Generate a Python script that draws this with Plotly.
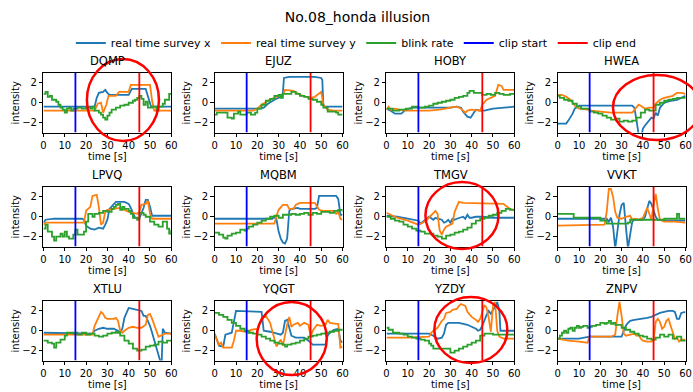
import plotly.graph_objects as go

# ---------------- data (time [s], value) ----------------
subjects = ["DQMP", "EJUZ", "HOBY", "HWEA", "LPVQ", "MQBM", "TMGV", "VVKT", "XTLU", "YQGT", "YZDY", "ZNPV"]
clip_start = 15
clip_end = 45

dqmp_sx = [(0,-0.4),(24,-0.4),(25,0.5),(26,1.0),(28,1.1),(29,1.3),(30,1.0),(31,0.8),(40,0.8),(41.5,1.4),(48,1.4),(49,0.6),(50.5,-0.4),(60,-0.4)]
dqmp_sy = [(0,-0.8),(24,-0.8),(25.5,-0.1),(27,0.0),(28,-1.0),(29.5,-0.2),(30.5,0.7),(34,0.7),(35.5,1.1),(40,1.1),(41,1.8),(50,1.8),(51,0.2),(52,-0.8),(60,-0.8)]
dqmp_br = [(0,0.9),(1,1.1),(2,0.6),(3,0.7),(4,0.3),(6,0.1),(7,-0.2),(8,-0.5),(9,-0.7),(10,-1.0),(11,-0.6),(12,-0.5),(13,-0.8),(14,-0.6),(16,-0.5),(18,-0.6),(20,-0.5),(22,-0.6),(23,-0.4),(24,-0.8),(26,-1.0),(27,-1.2),(28,-1.5),(29,-1.7),(30,-1.3),(31,-1.0),(32,-0.7),(34,-0.5),(36,-0.3),(38,-0.2),(40,0.0),(42,0.2),(43,0.3),(44,0.5),(45,0.7),(46,0.4),(47,-0.2),(48,0.1),(49,-0.5),(51,-0.4),(53,-0.8),(54,-0.4),(56,-0.1),(57,0.3),(59,0.9),(60,0.8)]

ejuz_sx = [(0,-0.6),(21,-0.6),(23,-0.5),(25,-0.1),(28,0.3),(31,0.6),(32,1.0),(32.5,2.5),(35,2.6),(47,2.6),(50,2.5),(50.5,2.3),(51,-0.3),(52,-0.4),(60,-0.4)]
ejuz_sy = [(0,-0.8),(18,-0.8),(20,-0.6),(22,-0.2),(25,0.2),(28,0.5),(30,0.7),(32,0.8),(33,1.3),(37,1.2),(40,0.8),(43,0.6),(45,0.5),(47,0.6),(49,0.9),(50,1.1),(51,-0.2),(53,-0.7),(56,-0.8),(60,-0.8)]
ejuz_br = [(0,-1.2),(1,-1.0),(5,-1.0),(6,-1.5),(8,-1.6),(9,-1.1),(11,-0.9),(12,-1.2),(14,-1.2),(15,-1.0),(17,-1.2),(19,-1.0),(20,-0.6),(22,-0.2),(24,0.2),(26,0.4),(28,0.7),(30,0.8),(31,0.5),(32,0.9),(34,0.9),(36,1.1),(38,0.9),(40,0.7),(42,0.6),(44,0.4),(46,0.3),(48,0.1),(50,-0.2),(51,-0.5),(53,-0.9),(55,-0.9),(57,-1.0),(58,-1.2),(60,-1.2)]

hoby_sx = [(0,-0.6),(2,-0.8),(4,-1.1),(7,-1.1),(9,-0.7),(12,-0.5),(30,-0.5),(33,-0.4),(35,-0.5),(36,-0.9),(38,-1.4),(39.5,-1.5),(41,-1.0),(42,-0.7),(44,-0.8),(46,-0.8),(50,-0.6),(55,-0.5),(60,-0.4)]
hoby_sy = [(0,-0.7),(1,-0.4),(2,-0.7),(4,-0.6),(6,-0.7),(9,-0.8),(20,-0.8),(25,-0.7),(30,-0.5),(33,-0.4),(35,-0.6),(37,-1.0),(38,-0.8),(40,-0.7),(44,-0.8),(45,-0.2),(47,0.3),(49,0.5),(51,0.7),(52.5,1.8),(54,1.7),(55,1.3),(60,1.3)]
hoby_br = [(0,-0.6),(3,-0.8),(6,-0.7),(9,-0.6),(12,-0.4),(15,-0.5),(18,-0.4),(20,-0.3),(22,-0.1),(24,0.0),(26,0.1),(28,0.2),(30,0.3),(32,0.5),(34,0.6),(36,0.7),(38,1.0),(39,1.2),(41,1.0),(43,1.0),(45,0.8),(47,0.9),(49,0.8),(51,1.0),(53,0.9),(55,0.8),(58,0.9),(60,0.9)]

hwea_sx = [(0,-2.1),(4,-2.1),(5,-1.8),(6,-1.5),(7,-1.1),(8,-0.6),(9,-0.4),(10,-0.3),(35,-0.3),(36,-0.5),(37,-1.8),(38,-3.2),(39.5,-3.2),(40,-2.6),(41,-2.3),(43,-1.7),(44,-1.5),(45,-1.6),(46,-1.0),(47,-1.3),(48,-0.5),(50,0.0),(53,0.2),(56,0.3),(58,0.5),(60,0.7)]
hwea_sy = [(0,0.8),(2,0.8),(4,0.6),(6,0.3),(8,-0.3),(10,-0.6),(14,-0.7),(16,-0.8),(20,-0.9),(25,-1.0),(35,-1.0),(37,-0.5),(38,-0.2),(39,-0.3),(41,-0.6),(43,-0.5),(45,-0.5),(46,-0.1),(48,0.3),(50,0.5),(52,0.6),(54,0.7),(56,1.0),(58,1.0),(60,0.9)]
hwea_br = [(0,0.7),(1,0.5),(3,0.3),(5,0.2),(7,-0.1),(9,-0.4),(11,-0.6),(13,-0.6),(15,-0.9),(17,-1.0),(19,-1.1),(21,-1.3),(23,-1.5),(25,-1.7),(27,-1.6),(29,-1.9),(31,-1.8),(33,-1.9),(35,-1.8),(37,-1.5),(39,-1.0),(41,-0.7),(43,-0.8),(45,-0.8),(46,-0.2),(48,0.0),(50,0.2),(52,0.3),(54,0.4),(56,0.5),(58,0.5),(60,0.6)]

lpvq_sx = [(0,-0.6),(1,-0.3),(5,-0.2),(18,-0.2),(19,-0.3),(20,-0.9),(22,-1.2),(24,-1.3),(26,-1.1),(28,-1.2),(29,-0.8),(30,-0.3),(31,0.8),(32,1.0),(34,1.5),(38,1.5),(40,1.3),(41,0.9),(42,0.3),(43,-0.1),(45,-0.2),(46,0.3),(47,0.9),(48,1.7),(49,1.7),(50,1.0),(51,0.1),(60,0.1)]
lpvq_sy = [(0,-0.8),(1,-0.6),(19,-0.6),(20,0.6),(22,1.0),(23,2.1),(25,2.2),(26,1.0),(27,-0.8),(28,-0.6),(29,0.5),(30,0.7),(33,0.8),(36,0.9),(38,0.7),(40,0.5),(42,0.4),(44,0.3),(45,0.5),(46,1.2),(48,1.3),(49,1.6),(50,0.3),(51,-0.2),(60,-0.2)]
lpvq_br = [(0,-1.2),(1,-0.8),(2,-1.5),(4,-2.0),(5,-2.4),(6,-2.0),(8,-1.7),(9,-2.0),(10,-1.5),(11,-2.0),(12,-2.2),(14,-1.8),(15,-1.3),(16,-1.8),(18,-1.8),(19,-1.5),(20,-0.5),(21,0.3),(23,0.0),(24,0.3),(26,0.4),(28,0.6),(30,0.5),(32,0.8),(33,1.0),(34,1.2),(35,1.3),(36,0.7),(37,1.0),(38,0.8),(40,0.6),(41,0.3),(42,-0.1),(44,-0.3),(45,0.4),(47,0.2),(48,0.0),(50,-0.5),(52,-0.8),(54,-1.0),(56,-0.5),(58,-1.2),(59,-1.7),(60,-1.3)]

mqbm_sx = [(0,-0.2),(27,-0.2),(28,0.0),(29,-0.3),(30,-1.5),(31,-2.2),(32,-2.6),(33,-2.7),(34,-2.2),(34.5,-0.3),(35,0.6),(36,0.8),(39,0.9),(40,0.8),(47,0.8),(48,0.9),(49,2.1),(57,2.1),(58,1.8),(59,0.2),(60,0.2)]
mqbm_sy = [(0,-0.7),(28,-0.7),(29,0.1),(30,0.7),(32,1.2),(34,1.2),(35,0.8),(37,0.8),(38,1.2),(40,1.4),(47,1.4),(48,1.0),(49,0.7),(51,0.6),(56,0.6),(57,0.3),(58,0.5),(59,-0.2),(60,-0.3)]
mqbm_br = [(0,-1.6),(2,-1.8),(4,-2.1),(5,-2.2),(6,-1.9),(8,-1.7),(10,-1.6),(12,-1.3),(14,-1.4),(15,-1.2),(16,-1.0),(18,-0.8),(20,-0.6),(22,-0.4),(24,-0.2),(26,0.0),(28,0.1),(30,-0.1),(32,0.2),(34,0.2),(36,0.3),(38,0.2),(40,0.3),(42,0.4),(44,0.2),(46,0.4),(48,0.3),(50,0.5),(52,0.5),(54,0.4),(56,0.6),(58,0.7),(60,0.5)]

tmgv_sx = [(0,0.1),(5,0.0),(10,-0.2),(13,-0.3),(15,-0.4),(16,-0.7),(17,-0.5),(18,-0.3),(20,0.0),(22,-0.3),(23,-0.1),(24,-0.2),(26,-0.3),(27,-0.6),(28,-0.5),(29,-0.3),(30,-0.6),(31,-0.2),(32,-0.3),(33,-0.2),(35,-0.1),(36,0.0),(37,-0.2),(38,0.2),(39,-0.1),(40,-0.1),(42,0.0),(45,0.0),(50,-0.1),(60,-0.1)]
tmgv_sy = [(0,0.4),(2,0.2),(5,-0.1),(10,-0.4),(13,-0.6),(15,-0.8),(16,-0.7),(17,-0.6),(19,-0.3),(21,0.2),(23,0.6),(24,0.3),(25,-1.4),(26,-1.8),(27,-1.3),(28,-1.0),(29,-0.9),(31,-0.7),(32,0.5),(33,1.0),(34,1.5),(36,1.4),(50,1.3),(55,1.3),(56,1.1),(58,0.8),(60,0.7)]
tmgv_br = [(0,0.0),(2,-0.2),(4,-0.4),(6,-0.5),(8,-0.8),(10,-1.0),(12,-1.2),(14,-1.4),(16,-1.5),(18,-1.7),(20,-1.7),(22,-1.9),(24,-2.0),(26,-2.2),(28,-1.9),(30,-1.8),(32,-1.6),(34,-1.5),(36,-1.3),(38,-1.1),(40,-0.7),(42,-0.4),(44,-0.2),(46,-0.1),(48,0.1),(50,0.2),(52,0.4),(54,0.6),(56,0.8),(58,0.7),(60,0.6)]

vvkt_sx = [(0,-0.2),(22,-0.2),(23,-0.2),(24,-0.5),(25,-0.1),(26,-1.0),(27,-3.2),(28,-1.5),(29,0.2),(30,1.2),(31,1.4),(32,-1.0),(33,-3.2),(34,-1.8),(35,-0.5),(36,-0.3),(40,-0.3),(41,0.0),(42,0.9),(43,1.6),(44,1.3),(45,0.7),(46,0.0),(47,-0.3),(50,-0.4),(60,-0.4)]
vvkt_sy = [(0,-0.9),(22,-0.8),(23,0.5),(24,2.8),(25,2.8),(26,2.0),(27,0.5),(28,-0.1),(30,-0.2),(32,0.0),(34,0.1),(35,-0.3),(36,-0.2),(38,-0.3),(40,-0.1),(41,0.4),(42,0.9),(43,0.3),(44,-0.3),(45,1.2),(46,2.3),(47,0.8),(48,-0.3),(50,-0.5),(55,-0.5),(60,-0.6)]
vvkt_br = [(0,0.3),(7.5,-0.1),(20,-0.4),(23,-0.7),(33,-0.6),(34,-0.3),(50,-0.2),(56,0.3),(57,-0.2),(60,-0.2)]

xtlu_sx = [(0,-0.2),(20,-0.3),(23,-0.3),(24,0.0),(26,0.2),(28,0.3),(30,0.2),(33,0.2),(35,0.0),(36,-0.2),(37,0.2),(38,1.3),(39,1.9),(40,2.3),(42,2.2),(44,2.1),(46,2.0),(47,1.5),(48,1.5),(49,1.0),(50,0.5),(51,-0.2),(52,-0.9),(53,-1.5),(54,-2.3),(55,-3.2),(55.5,-3.2),(56,0.2),(57,-0.2),(60,-0.3)]
xtlu_sy = [(0,-0.4),(23,-0.4),(24,0.5),(25,1.0),(26,1.4),(27,1.9),(28,1.7),(29,1.3),(30,1.2),(33,1.2),(34,1.3),(35,1.0),(36,0.0),(37,-0.2),(38,0.0),(40,0.3),(42,0.4),(44,0.3),(46,0.3),(48,0.6),(49,1.6),(50,1.7),(51,1.2),(52,0.6),(53,0.0),(54,-0.6),(55,-0.5),(57,-0.3),(60,-0.3)]
xtlu_br = [(0,-1.0),(2,-1.2),(4,-1.3),(5,-1.7),(6,-1.2),(8,-0.9),(10,-0.5),(11,-0.2),(14,-0.3),(15,-0.2),(16,-0.4),(18,-0.2),(20,-0.4),(22,-0.3),(24,-0.5),(26,-0.6),(28,-0.5),(30,-0.3),(32,-0.2),(34,-0.1),(35,-0.2),(36,-0.5),(38,-1.0),(40,-1.3),(42,-1.8),(44,-2.0),(46,-1.9),(48,-1.6),(50,-1.5),(52,-1.4),(54,-1.1),(56,-1.2),(58,-1.0),(60,-0.9)]

yqgt_sx = [(0,-0.3),(1,-0.9),(2,-1.5),(4,-1.6),(5,-0.4),(8,-0.2),(9,0.8),(10,2.0),(22,1.9),(23,0.0),(26,-0.1),(28,-0.2),(29,-0.3),(31,-0.4),(32,-0.2),(33,1.0),(34,1.1),(35,0.3),(36,-0.5),(38,-0.7),(42,-0.7),(44,-1.0),(46,-1.4),(52,-1.4),(53,-0.5),(54,-0.2),(56,0.1),(58,0.2),(59,-1.0),(60,-1.2)]
yqgt_sy = [(0,-0.4),(1,-1.0),(2,-1.4),(3,-1.2),(4,-1.7),(8,-1.7),(9,-1.0),(10,0.0),(12,0.0),(14,-0.1),(16,-0.2),(17,0.1),(20,0.2),(22,1.2),(24,1.5),(26,0.8),(27,0.0),(28,-1.0),(29,-1.6),(30,-1.2),(31,-0.9),(32,-1.5),(33,-0.3),(34,0.6),(35,1.4),(36,0.4),(37,0.6),(39,0.8),(40,0.5),(42,0.8),(44,0.6),(45,-0.6),(46,0.0),(48,0.6),(50,0.5),(52,0.6),(53,1.1),(54,0.8),(57,0.7),(58,0.7),(59,-1.7),(60,-1.6)]
yqgt_br = [(0,1.8),(2,1.6),(4,1.4),(6,1.1),(8,0.8),(10,0.5),(12,0.2),(14,0.0),(16,-0.2),(18,-0.3),(20,-0.4),(22,-0.6),(24,-0.8),(26,-1.0),(28,-1.2),(30,-1.3),(32,-1.4),(33,-1.6),(34,-1.4),(36,-1.3),(38,-1.2),(40,-1.0),(42,-0.8),(44,-0.6),(46,-0.5),(48,-0.4),(50,-0.3),(52,-0.2),(54,-0.1),(56,0.0),(58,0.1),(60,0.2)]

yzdy_sx = [(0,-0.3),(20,-0.3),(22,-0.5),(24,-0.8),(26,-0.7),(27,-0.3),(28,0.6),(29,0.8),(34,0.8),(36,0.7),(38,0.6),(40,0.4),(42,0.2),(43,0.0),(44,0.1),(45,0.5),(46,1.1),(47,1.6),(48,2.0),(49,1.7),(50,2.1),(51,2.4),(52,2.9),(53,2.0),(53.5,0.0),(60,0.0)]
yzdy_sy = [(0,-0.7),(10,-0.7),(20,-0.6),(21,-0.2),(22,0.0),(24,0.3),(26,1.0),(27,1.2),(28,1.8),(30,1.9),(31,2.1),(33,2.2),(34,2.5),(35,2.7),(36,2.6),(37,2.5),(38,1.9),(40,1.4),(42,1.1),(43,0.9),(44,1.2),(45,1.8),(46,2.6),(47,2.3),(48,1.3),(49,-0.1),(50,2.5),(51,2.9),(52,0.0),(53,-0.6),(55,-0.8),(60,-0.8)]
yzdy_br = [(0,0.3),(1,0.1),(3,-0.2),(6,-0.3),(8,-0.4),(10,-0.6),(12,-0.7),(14,-0.8),(16,-0.9),(18,-1.0),(20,-1.3),(21,-1.5),(22,-1.8),(30,-2.2),(32,-2.0),(34,-1.8),(36,-1.6),(38,-1.4),(40,-1.2),(42,-1.0),(44,-0.5),(46,-0.3),(48,-0.3),(50,-0.4),(60,-0.4)]

znpv_sx = [(0,-0.8),(10,-0.8),(15,-0.6),(30,-0.6),(31,0.0),(32,0.5),(33,0.8),(34,1.0),(36,1.1),(40,1.2),(42,1.3),(44,1.4),(46,1.6),(48,1.8),(50,1.9),(52,2.0),(54,2.0),(55,1.9),(56,1.2),(57,1.2),(58,1.8),(60,1.9)]
znpv_sy = [(0,-0.8),(5,-1.0),(10,-1.1),(14,-1.2),(15,-0.5),(16,-0.6),(25,-0.6),(27,-0.4),(28,1.5),(29,2.9),(30,1.5),(31,-0.3),(32,-0.5),(34,-0.4),(36,-0.3),(37,-0.5),(38,-0.4),(39,-0.8),(40,-1.0),(42,-1.1),(44,-1.1),(45,-1.0),(46,0.9),(47,1.2),(48,0.9),(49,0.2),(50,0.4),(51,1.0),(52,1.2),(53,0.5),(54,-0.2),(55,-0.8),(56,-0.7),(57,-1.1),(58,-0.9),(60,-0.9)]
znpv_br = [(0,-0.8),(1,-0.5),(2,-0.2),(3,0.0),(4,-0.2),(5,0.2),(6,0.3),(7,0.0),(8,0.3),(9,0.5),(10,0.3),(11,0.4),(12,0.5),(14,0.3),(15,0.4),(16,0.5),(18,0.6),(20,0.8),(22,0.7),(23,0.8),(24,1.0),(25,0.7),(26,0.8),(27,0.6),(30,0.3),(32,0.1),(34,-0.1),(36,-0.3),(38,-0.5),(40,-0.6),(42,-0.8),(44,-0.9),(46,-0.7),(48,-0.4),(50,-0.6),(52,-0.4),(54,-0.8),(56,-0.6),(58,-1.0),(60,-0.9)]

series_x = [dqmp_sx, ejuz_sx, hoby_sx, hwea_sx, lpvq_sx, mqbm_sx, tmgv_sx, vvkt_sx, xtlu_sx, yqgt_sx, yzdy_sx, znpv_sx]
series_y = [dqmp_sy, ejuz_sy, hoby_sy, hwea_sy, lpvq_sy, mqbm_sy, tmgv_sy, vvkt_sy, xtlu_sy, yqgt_sy, yzdy_sy, znpv_sy]
series_b = [dqmp_br, ejuz_br, hoby_br, hwea_br, lpvq_br, mqbm_br, tmgv_br, vvkt_br, xtlu_br, yqgt_br, yzdy_br, znpv_br]

# subplots highlighted with a red circle: (subject, left, top, right, bottom) in pixels
circles = [("DQMP", 85, 59, 158, 141), ("HWEA", 618, 75, 707, 140), ("TMGV", 428, 182, 502, 249),
           ("YQGT", 257, 302, 328, 375), ("YZDY", 437, 297, 511, 363)]

# ---------------- layout ----------------
W, H = 693, 392
col_left = [41, 214.5, 388.5, 562]
row_top = [73, 187, 301]
pw, ph = 129.5, 59.5

C_X, C_Y, C_B = "#1f77b4", "#ff7f0e", "#2ca02c"
FONT = "DejaVu Sans"

fig = go.Figure()
layout = dict(width=W, height=H, margin=dict(l=0, r=0, t=0, b=0),
              paper_bgcolor="white", plot_bgcolor="white",
              font=dict(family=FONT, color="black", size=10))
annotations = []
shapes = []

for i, name in enumerate(subjects):
    r, c = divmod(i, 4)
    n = "" if i == 0 else str(i + 1)
    xa, ya = "x" + n, "y" + n
    x0 = col_left[c] / W
    x1 = (col_left[c] + pw) / W
    y1 = 1 - row_top[r] / H
    y0 = 1 - (row_top[r] + ph) / H
    first = i == 0
    for data, col, label, shape in [(series_x[i], C_X, "real time survey x", "linear"),
                                    (series_y[i], C_Y, "real time survey y", "linear"),
                                    (series_b[i], C_B, "blink rate", "hv")]:
        fig.add_trace(go.Scatter(x=[p[0] for p in data], y=[p[1] for p in data], mode="lines",
                                 line=dict(color=col, width=1.8, shape=shape), name=label,
                                 legendgroup=label, showlegend=first, xaxis=xa, yaxis=ya,
                                 hoverinfo="skip"))
    for xv, col, label in [(clip_start, "#0000ff", "clip start"), (clip_end, "#ff0000", "clip end")]:
        fig.add_trace(go.Scatter(x=[xv, xv], y=[-3, 3], mode="lines", line=dict(color=col, width=1.8),
                                 name=label, legendgroup=label, showlegend=first,
                                 xaxis=xa, yaxis=ya, hoverinfo="skip"))
    axis_common = dict(showline=True, mirror=True, linecolor="black", linewidth=1, showgrid=False,
                       zeroline=False, ticks="outside", ticklen=3.5, tickwidth=1, tickcolor="black",
                       tickfont=dict(size=10, family=FONT, color="black"))
    layout["xaxis" + n] = dict(domain=[x0, x1], range=[0, 60], anchor=ya, tickvals=[0, 10, 20, 30, 40, 50, 60],
                               title=dict(text="time [s]", font=dict(size=10), standoff=0), **axis_common)
    layout["yaxis" + n] = dict(domain=[y0, y1], range=[-3, 3], anchor=xa, tickvals=[-2, 0, 2],
                               ticktext=["\u22122", "0", "2"],
                               title=dict(text="intensity", font=dict(size=10), standoff=0), **axis_common)
    annotations.append(dict(text=name, x=(x0 + x1) / 2, y=y1, xref="paper", yref="paper",
                            xanchor="center", yanchor="bottom", yshift=3, showarrow=False,
                            font=dict(size=11.5, family=FONT, color="black")))

for name, l, t, rgt, b in circles:
    shapes.append(dict(type="circle", xref="paper", yref="paper", x0=l / W, x1=rgt / W,
                       y0=1 - b / H, y1=1 - t / H, line=dict(color="#ff0000", width=2.5), layer="above"))

layout["annotations"] = annotations
layout["shapes"] = shapes
layout["title"] = dict(text="No.08_honda illusion", x=357.5 / W, xanchor="center", y=1 - 17 / H,
                       yanchor="middle", font=dict(size=14, family=FONT, color="black"))
layout["legend"] = dict(orientation="h", x=358 / W, xanchor="center", y=1 - 43 / H, yanchor="middle",
                        font=dict(size=11, family=FONT, color="black"), bgcolor="rgba(0,0,0,0)",
                        itemwidth=30, traceorder="normal")
fig.update_layout(**layout)
fig.write_html("out.html")
